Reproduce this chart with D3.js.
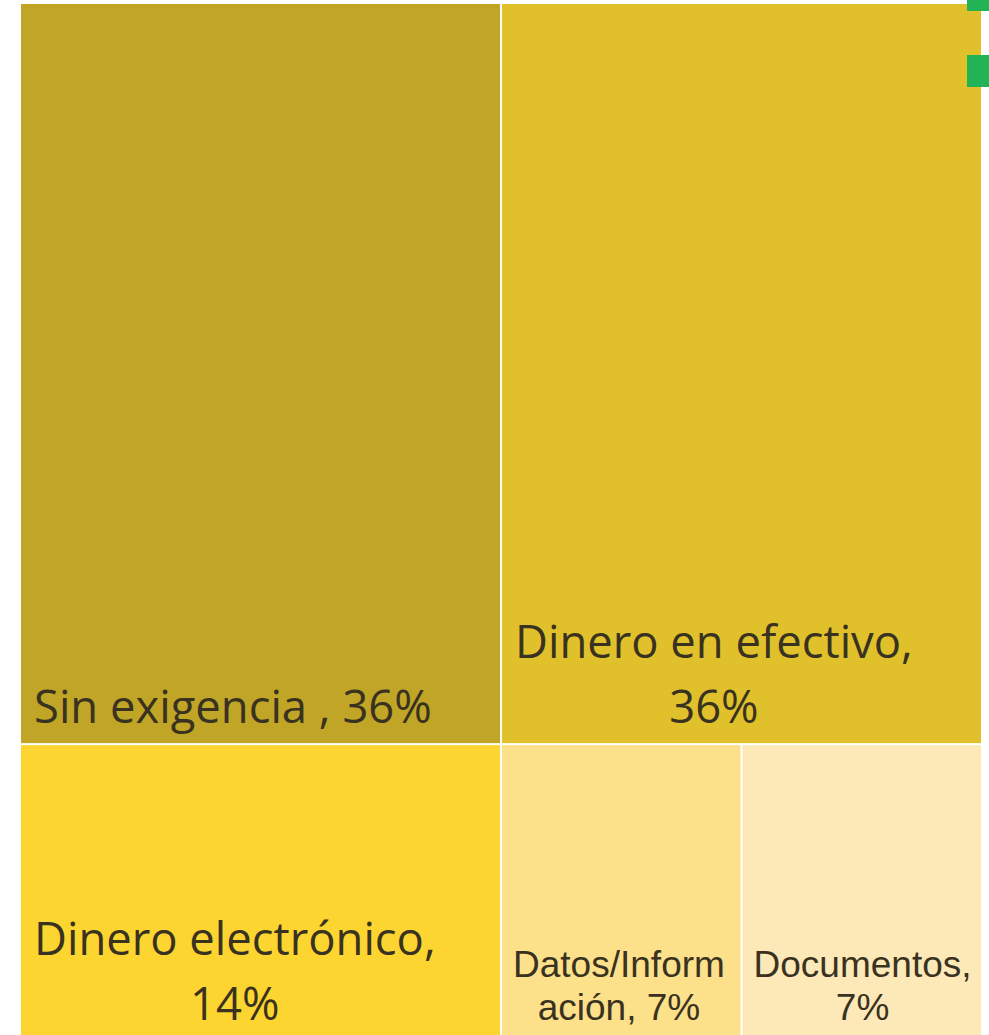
<!DOCTYPE html>
<html><head><meta charset="utf-8">
<script src="https://cdn.jsdelivr.net/npm/d3@7"></script>
<style>html,body{margin:0;padding:0;background:#fff;}svg{display:block;}</style>
</head><body>
<svg id="chart" width="989" height="1035"></svg>
<script>
// Data
const groups = ["top", "top", "bottom", "bottom", "bottom"];
const categories = ["Sin exigencia ", "Dinero en efectivo", "Dinero electrónico", "Datos/Información", "Documentos"];
const values = [35.7, 35.7, 14.3, 7.15, 7.15];
const labelLines = [
  ["Sin exigencia , 36%"],
  ["Dinero en efectivo,", "36%"],
  ["Dinero electrónico,", "14%"],
  ["Datos/Inform", "ación, 7%"],
  ["Documentos,", "7%"]
];
const colors = ["#C1A526", "#E0C12B", "#FDD530", "#FDE08A", "#FDE9B8"];
const legendColors = ["#22B356", "#22B356"];

const svg = d3.select("#chart");
const X0 = 21, Y0 = 4, X1 = 981, Y1 = 1040;

const rowNames = ["top", "bottom"];
const rootData = {
  name: "root",
  children: rowNames.map(r => ({
    name: r,
    children: categories.map((c, i) => ({ name: c, value: values[i], idx: i })).filter((d, i) => groups[i] === r)
  }))
};
const root = d3.hierarchy(rootData).sum(d => d.value || 0);
d3.treemap()
  .tile((node, x0, y0, x1, y1) => (node.depth & 1 ? d3.treemapDice : d3.treemapSlice)(node, x0, y0, x1, y1))
  .size([X1 - X0, Y1 - Y0])
  .paddingInner(2)(root);

const g = svg.append("g").attr("transform", `translate(${X0},${Y0})`);
const leaves = root.leaves();
const cell = g.selectAll("g.cell").data(leaves).join("g").attr("class", "cell");
cell.append("rect")
  .attr("x", d => d.x0).attr("y", d => d.y0)
  .attr("width", d => d.x1 - d.x0).attr("height", d => d.y1 - d.y0)
  .attr("fill", d => colors[d.data.idx]);

function fitSize(font, str, targetW) {
  const t = svg.append("text").attr("font-family", font).attr("font-size", 100).text(str);
  const w = t.node().getComputedTextLength();
  t.remove();
  return 100 * targetW / w;
}
const bigFont = "'Open Sans', sans-serif";
const smallFont = "'Liberation Sans', Arial, sans-serif";
const bigSize = fitSize(bigFont, "Sin exigencia , 36%", 398);
const smallSize = fitSize(smallFont, "Datos/Inform", 212);

cell.each(function(d) {
  const i = d.data.idx;
  const lines = labelLines[i];
  const small = i >= 3;
  const font = small ? smallFont : bigFont;
  const size = small ? smallSize : bigSize;
  const lh = small ? 43 : 65;
  const sel = d3.select(this);
  const widths = lines.map(l => {
    const tt = sel.append("text").attr("font-family", font).attr("font-size", size).text(l);
    const w = tt.node().getComputedTextLength(); tt.remove(); return w;
  });
  const blockW = d3.max(widths);
  const left = d.x0 + (small ? 11 : 13);
  const cx = left + blockW / 2;
  const baseY = d.y1 - 20;
  const t = sel.append("text")
    .attr("font-family", font).attr("font-size", size)
    .attr("fill", "#3A3220");
  lines.forEach((l, k) => {
    const multi = lines.length > 1;
    t.append("tspan")
      .attr("x", multi ? cx : left)
      .attr("text-anchor", multi ? "middle" : "start")
      .attr("y", baseY - (lines.length - 1 - k) * lh)
      .text(l);
  });
});

// cropped legend markers at top right
const legendY = [0, 55], legendH = [11, 32];
svg.selectAll("rect.leg").data(legendColors).join("rect").attr("class", "leg")
  .attr("x", 967).attr("y", (d, i) => legendY[i]).attr("width", 22).attr("height", (d, i) => legendH[i])
  .attr("fill", d => d);
</script>
</body></html>
